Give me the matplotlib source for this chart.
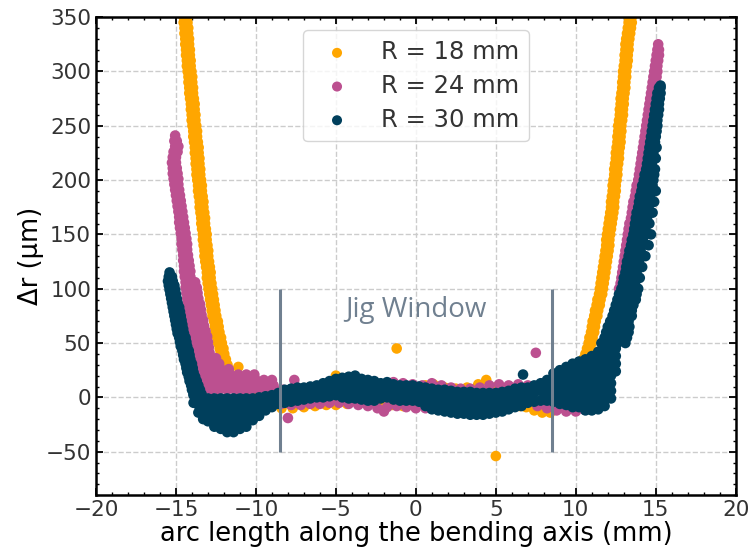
import numpy as np
import matplotlib.pyplot as plt

# ---- data (x in mm, y in um) ----
# rows: (y, [x, ...])   cols: (x, [y, ...])

# R = 18 mm
r18_left = [(375, [-14.72, -14.48]), (370, [-14.67, -14.43]), (365, [-14.67, -14.43]),
            (360, [-14.62, -14.38]), (355, [-14.57, -14.33]), (350, [-14.52, -14.28]),
            (345, [-14.52, -14.28]), (340, [-14.47, -14.23]), (335, [-14.47, -14.23]),
            (330, [-14.42, -14.18]), (325, [-14.42, -14.18]), (320, [-14.37, -14.13]),
            (315, [-14.37, -14.13]), (310, [-14.32, -14.08]), (305, [-14.32, -14.08]),
            (300, [-14.27, -14.03]), (295, [-14.22, -13.98]), (290, [-14.22, -13.98]),
            (285, [-14.17, -13.93]), (280, [-14.17, -13.93]), (275, [-14.12, -13.88]),
            (270, [-14.07, -13.83]), (265, [-14.07, -13.83]), (260, [-14.02, -13.78]),
            (255, [-14.02, -13.78]), (250, [-13.97, -13.73]), (245, [-13.92, -13.68]),
            (240, [-13.92, -13.68]), (235, [-13.87, -13.63]), (230, [-13.82, -13.58]),
            (225, [-13.82, -13.58]), (220, [-13.77, -13.53]), (215, [-13.77, -13.53]),
            (210, [-13.72, -13.48]), (205, [-13.72, -13.48]), (200, [-13.67, -13.43]),
            (195, [-13.62, -13.38]), (190, [-13.62, -13.38]), (185, [-13.57, -13.33]),
            (180, [-13.52, -13.28]), (175, [-13.52, -13.28]), (170, [-13.47, -13.23]),
            (165, [-13.42, -13.18]), (160, [-13.42, -13.18]), (155, [-13.37, -13.13]),
            (150, [-13.32, -13.08]), (145, [-13.32, -13.08]), (140, [-13.27, -13.03]),
            (135, [-13.22, -12.98]), (130, [-13.22, -12.98]), (125, [-13.17, -12.93]),
            (120, [-13.12, -12.88]), (115, [-13.07, -12.83]), (110, [-13.07, -12.83]),
            (105, [-13.02, -12.78]), (100, [-12.97, -12.73]), (95, [-12.92, -12.68]),
            (90, [-12.87, -12.63]), (85, [-12.82, -12.58]), (80, [-12.77, -12.53]),
            (75, [-12.72, -12.48]), (70, [-12.62, -12.38]), (65, [-12.57, -12.33]),
            (60, [-12.52, -12.28]), (55, [-12.42, -12.18]), (50, [-12.37, -12.13]),
            (45, [-12.27, -12.03]), (40, [-12.22, -11.98]), (35, [-12.12, -11.88]),
            (30, [-12.02, -11.78]), (25, [-11.92, -11.68]), (28, [-11.1])]
r18_mid = [(-11.2, [10, -2]), (-10.5, [6, -5]), (-9.8, [4, -7]), (-9.1, [2, -8]),
           (-8.4, [1, -10]), (-7.7, [2, -10]), (-7.0, [3, -9]), (-6.3, [5, -8]),
           (-5.6, [8, -7]), (-5.0, [20, 12, 4, -7]), (-4.3, [10, 0, -6]), (-3.6, [10, 0, -6]),
           (-2.9, [9, -1, -6]), (-2.2, [8, -2, -7]), (-1.5, [8, -2, -7]), (-0.8, [9, -2, -8]),
           (-0.1, [10, -2, -8]), (0.6, [11, -2, -9]), (1.1, [12, 0, -10]), (1.8, [9, -3, -10]),
           (2.5, [8, -4, -11]), (3.2, [9, -4, -12]), (3.9, [12, -4, -12]), (4.4, [16, 2, -12]),
           (5.1, [10, -3, -12]), (5.8, [8, -4, -10]), (6.5, [6, -5, -8]), (6.9, [-9]),
           (7.4, [-12]), (7.9, [-14]), (8.4, [-14]), (8.9, [-10]), (9.4, [-4]),
           (-1.2, [45]), (5.0, [-54])]
r18_right = [(0, [9.7]), (5, [9.85]), (10, [9.9, 10.1]), (15, [10.0, 10.2]), (20, [10.1, 10.3]),
             (25, [10.25, 10.45]), (30, [10.35, 10.55]), (35, [10.45, 10.65]), (40, [10.6, 10.8]),
             (45, [10.7, 10.9]), (50, [10.8, 11.0]), (55, [10.85, 11.05]), (60, [10.95, 11.15]),
             (65, [11.0, 11.2]), (70, [11.05, 11.25]), (75, [11.15, 11.35]), (80, [11.2, 11.4]),
             (85, [11.3, 11.5]), (90, [11.35, 11.55]), (95, [11.45, 11.65]), (100, [11.5, 11.7]),
             (105, [11.55, 11.75]), (110, [11.6, 11.8]), (115, [11.65, 11.85]),
             (120, [11.7, 11.9]), (125, [11.75, 11.95]), (130, [11.8, 12.0]),
             (135, [11.85, 12.05]), (140, [11.9, 12.1]), (145, [11.9, 12.1]),
             (150, [11.95, 12.15]), (155, [12.0, 12.2]), (160, [12.05, 12.25]),
             (165, [12.1, 12.3]), (170, [12.15, 12.35]), (175, [12.2, 12.4]),
             (180, [12.2, 12.4]), (185, [12.25, 12.45]), (190, [12.3, 12.5]),
             (195, [12.3, 12.5]), (200, [12.35, 12.55]), (205, [12.4, 12.6]),
             (210, [12.4, 12.6]), (215, [12.45, 12.65]), (220, [12.5, 12.7]),
             (225, [12.5, 12.7]), (230, [12.55, 12.75]), (235, [12.6, 12.8]),
             (240, [12.6, 12.8]), (245, [12.65, 12.85]), (250, [12.65, 12.85]),
             (255, [12.7, 12.9]), (260, [12.75, 12.95]), (265, [12.75, 12.95]),
             (270, [12.8, 13.0]), (275, [12.8, 13.0]), (280, [12.85, 13.05]),
             (285, [12.9, 13.1]), (290, [12.9, 13.1]), (295, [12.95, 13.15]),
             (300, [12.95, 13.15]), (305, [13.0, 13.2]), (310, [13.05, 13.25]),
             (315, [13.05, 13.25]), (320, [13.1, 13.3]), (325, [13.1, 13.3]),
             (330, [13.15, 13.35]), (335, [13.2, 13.4]), (340, [13.25, 13.45]),
             (345, [13.3, 13.5]), (350, [13.3, 13.5]), (355, [13.35, 13.55]),
             (360, [13.4, 13.6]), (365, [13.45, 13.65])]

# R = 24 mm
r24_left = [(241, [-15.05]), (236, [-15.1, -14.95]), (231, [-15.05, -14.85]),
            (226, [-15.15, -14.9]), (221, [-15.2, -15.0]), (216, [-15.25, -15.0]),
            (211, [-15.2, -14.95]), (206, [-15.2, -14.9]), (201, [-15.15, -14.85]),
            (196, [-15.1, -14.85]), (191, [-15.05, -14.8]), (186, [-15.0, -14.75]),
            (181, [-14.95, -14.7]), (176, [-14.9, -14.65]), (171, [-14.85, -14.6]),
            (166, [-14.8, -14.55]), (161, [-14.8, -14.5]), (156, [-14.75, -14.45]),
            (151, [-14.7, -14.4]), (146, [-14.65, -14.35]), (141, [-14.65, -14.3]),
            (136, [-14.6, -14.3]), (131, [-14.55, -14.25]), (126, [-14.55, -14.2]),
            (121, [-14.5, -14.15]), (116, [-14.5, -14.1]), (111, [-14.45, -14.1]),
            (106, [-14.4, -14.05, -13.8]), (101, [-14.4, -14.0, -13.7]),
            (96, [-14.35, -14.0, -13.65]), (91, [-14.3, -13.95, -13.6]),
            (86, [-14.3, -13.9, -13.5]), (81, [-14.25, -13.85, -13.45]),
            (76, [-14.2, -13.8, -13.4]), (71, [-14.2, -13.75, -13.3]),
            (66, [-14.15, -13.7, -13.25]), (61, [-14.1, -13.6, -13.15]),
            (56, [-14.05, -13.55, -13.05]), (51, [-14.0, -13.5, -13.0]),
            (46, [-13.95, -13.45, -12.95]), (41, [-13.9, -13.4, -12.9]),
            (36, [-13.85, -13.35, -12.85, -12.5]), (31, [-13.8, -13.3, -12.8, -12.3]),
            (26, [-13.7, -13.2, -12.7, -12.2, -11.7]),
            (21, [-13.6, -13.1, -12.6, -12.1, -11.6, -11.1, -10.6, -10.1]),
            (16, [-13.5, -13.0, -12.5, -12.0, -11.5, -11.0, -10.5, -10.0, -9.5, -9.0, -7.6]),
            (11, [-13.4, -12.9, -12.4, -11.9, -11.4, -10.9, -10.4, -9.9, -9.4, -8.9]),
            (7, [-13.3, -12.8, -12.3, -11.8, -11.3, -10.8, -10.3, -9.8, -9.3, -8.8, -8.3]),
            (-19, [-8.0])]
r24_mid = [(-8.4, [-6]), (-7.8, [-7]), (-7.2, [-7]), (-6.6, [-6]), (-6.0, [-6]), (-5.4, [-5]),
           (-4.8, [-5]), (-4.2, [-6]), (-3.6, [-7]), (-3.0, [14, -8]), (-2.4, [-10]),
           (-2.0, [12, -13]), (-1.8, [-9]), (-1.4, [14]), (-1.2, [-8]), (-0.8, [13]),
           (-0.6, [-9]), (-0.2, [12]), (0.0, [-10]), (0.4, [11]), (0.6, [-10]), (1.0, [13]),
           (1.6, [11]), (2.2, [9]), (2.8, [8]), (3.4, [8]), (4.0, [9]), (4.6, [11]), (5.2, [12]),
           (5.8, [11]), (6.4, [12]), (7.0, [11]), (7.5, [41]), (7.6, [9, -8]), (8.2, [8, -10]),
           (8.8, [-12]), (9.4, [-13]), (10.0, [-13]), (10.5, [-11])]
r24_right = [(5, [11.0]), (15, [11.5]), (25, [11.9]), (38, [12.2]), (50, [12.45]), (62, [12.55]),
             (75, [12.65]), (88, [12.75]), (100, [12.7, 12.9]), (105, [12.8, 13.0]),
             (110, [12.85, 13.05]), (115, [12.9, 13.1]), (120, [12.95, 13.15]),
             (125, [13.0, 13.2]), (130, [13.05, 13.25]), (135, [13.1, 13.3]),
             (140, [13.15, 13.35]), (145, [13.2, 13.4]), (150, [13.25, 13.45]),
             (155, [13.3, 13.5]), (160, [13.35, 13.55]), (165, [13.45, 13.65]),
             (170, [13.5, 13.7]), (175, [13.55, 13.75]), (180, [13.6, 13.8]),
             (185, [13.7, 13.9]), (190, [13.75, 13.95]), (195, [13.8, 14.0]),
             (200, [13.9, 14.1]), (205, [13.95, 14.15]), (210, [14.0, 14.2]),
             (215, [14.05, 14.25]), (220, [14.1, 14.3]), (225, [14.15, 14.35]),
             (230, [14.2, 14.4]), (235, [14.25, 14.45]), (240, [14.3, 14.5]),
             (245, [14.35, 14.55]), (250, [14.4, 14.6]), (255, [14.45, 14.65]),
             (260, [14.5, 14.7]), (265, [14.55, 14.75]), (270, [14.6, 14.8]),
             (275, [14.65, 14.85]), (280, [14.7, 14.9]), (285, [14.75, 14.95]),
             (290, [14.8, 15.0]), (295, [14.85, 15.05]), (300, [14.9, 15.1]),
             (305, [14.95, 15.1]), (310, [15.0, 15.15]), (315, [15.05, 15.2]),
             (320, [15.1, 15.2]), (325, [15.15])]

# R = 30 mm
r30_left = [(115, [-15.4]), (111, [-15.45, -15.25]), (107, [-15.5, -15.2]),
            (103, [-15.45, -15.1]), (99, [-15.4, -15.05]), (95, [-15.35, -15.0]),
            (91, [-15.3, -14.95]), (87, [-15.25, -14.9]), (83, [-15.2, -14.8]),
            (79, [-15.15, -14.75]), (75, [-15.1, -14.7]), (71, [-15.05, -14.65]),
            (67, [-15.0, -14.6]), (63, [-14.95, -14.55]), (59, [-14.9, -14.5]),
            (55, [-14.8, -14.4]), (51, [-14.75, -14.35]), (47, [-14.7, -14.3]),
            (43, [-14.6, -14.2]), (39, [-14.55, -14.15]), (35, [-14.5, -14.1]),
            (31, [-14.4, -14.0]), (27, [-14.35, -13.95]), (23, [-14.3, -13.9]),
            (19, [-14.2, -13.8]), (15, [-14.15, -13.7]), (11, [-14.05, -13.6]),
            (7, [-14.0, -13.5]), (3, [-13.9, -13.4])]
r30_blob = [(-13.9, [2, -5]), (-13.6, [0, -7, -14]), (-13.3, [-1, -8, -15, -20]),
            (-13.0, [-1, -8, -15, -22]), (-12.6, [-1, -8, -15, -22, -27]),
            (-12.2, [-1, -8, -15, -22, -29]), (-11.8, [-1, -8, -15, -22, -29, -32]),
            (-11.4, [-1, -8, -15, -22, -29, -32]), (-11.0, [-1, -8, -15, -22, -29]),
            (-10.6, [-1, -8, -15, -22, -27]), (-10.2, [-1, -8, -15, -21]),
            (-9.8, [0, -7, -14, -17]), (-9.4, [1, -6, -12]), (-9.0, [2, -4, -9]),
            (-8.6, [4, -2, -6])]
r30_band = [(-8.2, [7, 0, -5]), (-7.8, [8, 1, -4]), (-7.4, [9, 2, -3]), (-7.0, [9, 2, -2]),
            (-6.6, [10, 3, -1]), (-6.2, [11, 4, 0]), (-5.8, [13, 6, 0]), (-5.4, [15, 8, 1]),
            (-5.0, [17, 10, 2]), (-4.6, [18, 11, 3, 0]), (-4.2, [19, 12, 5, -1]),
            (-3.8, [20, 13, 6, -1]), (-3.4, [17, 10, 3, -2]), (-3.0, [16, 9, 2, -3]),
            (-2.6, [15, 8, 1, -3]), (-2.2, [13, 6, -1]), (-1.8, [14, 7, 0]), (-1.4, [12, 5, -2]),
            (-1.0, [11, 4, -3]), (-0.6, [11, 4, -3]), (-0.2, [11, 4, -3]), (0.2, [10, 3, -4]),
            (0.6, [9, 2, -5, -8]), (1.0, [8, 1, -6, -11]), (1.4, [7, 0, -7, -12]),
            (1.8, [7, 0, -7, -13]), (2.2, [6, -1, -8, -14]), (2.6, [5, -2, -9, -15]),
            (3.0, [5, -2, -9, -15]), (3.4, [5, -2, -9, -16]), (3.8, [4, -3, -10, -16]),
            (4.2, [4, -3, -10, -16]), (4.6, [4, -3, -10, -15]), (5.0, [4, -3, -10, -14]),
            (5.4, [5, -2, -9, -13]), (5.8, [6, -1, -8, -11]), (6.2, [8, 1, -6, -9]),
            (6.6, [9, 2, -5, -8]), (6.7, [21]),
            (7.0, [9, 2, -5]), (7.4, [11, 4, -4]), (7.8, [13, 6, -3]), (8.2, [16, 9, 2, -3]),
            (8.6, [22, 15, 8, 1, -4]), (9.0, [25, 18, 11, 4, -3, -6]),
            (9.4, [28, 21, 14, 7, 0, -7]), (9.8, [31, 24, 17, 10, 3, -4, -9]),
            (10.2, [33, 26, 19, 12, 5, -2, -9]), (10.6, [35, 28, 21, 14, 7, 0, -7, -12]),
            (11.0, [38, 31, 24, 17, 10, 3, -4, -12]), (11.4, [42, 35, 28, 21, 14, 7, 0, -7, -11]),
            (11.8, [46, 39, 32, 25, 18, 11, 4, -3, -8]), (12.2, [48, 41, 34, 27, 20, 13, 6, -1]),
            (12.5, [45, 38, 31, 24])]
r30_right = [(50, [11.6, 12.1, 12.6, 13.1]), (55, [11.8, 12.3, 12.8, 13.2]),
             (60, [11.9, 12.4, 12.9, 13.3]), (65, [12.0, 12.5, 13.0, 13.35]),
             (70, [12.15, 12.6, 13.1, 13.3]), (75, [12.3, 12.7, 13.1, 13.5]),
             (80, [12.4, 12.8, 13.2, 13.5]), (85, [12.5, 12.9, 13.3, 13.6]),
             (90, [12.6, 13.0, 13.4, 13.75]), (95, [12.7, 13.1, 13.5, 13.8]),
             (100, [12.85, 13.2, 13.6, 13.9]), (105, [12.95, 13.3, 13.7]),
             (110, [13.0, 13.4, 13.75, 14.0]), (115, [13.1, 13.45, 13.8]),
             (120, [13.15, 13.5, 13.9, 14.15]), (125, [13.2, 13.6, 13.95]),
             (130, [13.3, 13.65, 14.0, 14.35]), (135, [13.35, 13.7, 14.05]),
             (140, [13.45, 13.8, 14.15, 14.55]), (145, [13.5, 13.85, 14.2]),
             (150, [13.6, 13.95, 14.3, 14.7]), (155, [13.65, 14.0, 14.35]),
             (160, [13.7, 14.05, 14.4, 14.6]), (165, [13.75, 14.1, 14.45]),
             (170, [13.8, 14.15, 14.5, 14.8]), (175, [13.9, 14.25, 14.55]),
             (180, [13.95, 14.3, 14.6, 14.9]), (185, [14.0, 14.35, 14.65]),
             (190, [14.1, 14.4, 14.7, 15.0]), (195, [14.15, 14.5, 14.8]),
             (200, [14.25, 14.55, 14.85]), (205, [14.3, 14.6, 14.9]),
             (210, [14.4, 14.7, 14.95]), (215, [14.45, 14.75]), (220, [14.5, 14.8, 15.0]),
             (225, [14.55, 14.85]), (230, [14.6, 14.9, 15.05]), (235, [14.65, 14.95]),
             (240, [14.7, 15.0]), (245, [14.75, 15.05]), (250, [14.8, 15.1]),
             (255, [14.85, 15.1]), (260, [14.9, 15.15]), (265, [14.95, 15.2]),
             (270, [15.0, 15.2]), (275, [15.05, 15.25]), (280, [15.1, 15.3]),
             (285, [15.2, 15.3]), (287, [15.3])]


def from_rows(rows):
    return [(x, y) for y, xs in rows for x in xs]


def from_cols(cols):
    return [(x, y) for x, ys in cols for y in ys]


series = [
    ("R = 18 mm", "#ffa600", from_rows(r18_left) + from_cols(r18_mid) + from_rows(r18_right)),
    ("R = 24 mm", "#bc5090", from_rows(r24_left) + from_cols(r24_mid) + from_rows(r24_right)),
    ("R = 30 mm", "#003f5c", from_rows(r30_left) + from_cols(r30_blob) + from_cols(r30_band)
     + from_rows(r30_right)),
]

jig_edges = [-8.5, 8.5]

fig, ax = plt.subplots(figsize=(7.5, 5.52), dpi=100)
fig.subplots_adjust(left=0.128, right=0.981, top=0.969, bottom=0.103)

for label, color, pts in series:
    pts = np.array(pts, dtype=float)
    ax.scatter(pts[:, 0], pts[:, 1], s=58, color=color, edgecolors="none", label=label, zorder=2)

ax.vlines(jig_edges, -50, 100, color="slategray", linewidth=2.2, zorder=3)
ax.text(0, 80, "Jig Window", color="slategray", fontsize=20, family="Open Sans",
        ha="center", va="center", zorder=3)

ax.set_xlim(-20, 20)
ax.set_ylim(-90, 350)
ax.set_xticks(np.arange(-20, 21, 5))
ax.set_yticks(np.arange(-50, 351, 50))
ax.set_xticks(np.arange(-20, 21, 1), minor=True)
ax.set_yticks(np.arange(-90, 351, 10), minor=True)
ax.grid(True, which="major", linestyle="--", color="#cccccc", linewidth=1, zorder=0)
ax.set_axisbelow(True)

ax.tick_params(which="both", direction="in", top=True, right=True, labelsize=15.5,
               labelcolor="#333333")
ax.tick_params(which="major", length=5, width=1.3)
ax.tick_params(which="minor", length=2.5, width=1.0)
for sp in ax.spines.values():
    sp.set_linewidth(1.8)

ax.set_xlabel("arc length along the bending axis (mm)", fontsize=18.5, labelpad=1)
ax.set_ylabel("Δr (μm)", fontsize=18.5, labelpad=1)

ax.legend(loc="upper center", fontsize=17.5, labelcolor="#333333", labelspacing=0.4,
          borderaxespad=0.55, markerscale=0.95)

fig.savefig("out.png", dpi=100)
